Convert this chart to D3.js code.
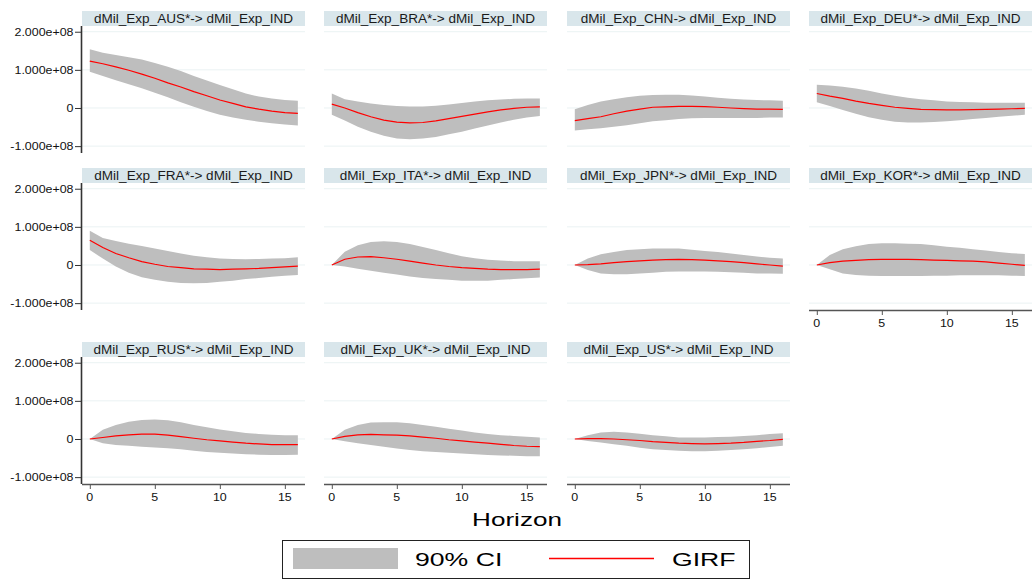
<!DOCTYPE html>
<html>
<head>
<meta charset="utf-8">
<script src="https://cdn.jsdelivr.net/npm/d3@7"></script>
<style>
  body { margin: 0; background: #fff; }
  text { font-family: "Liberation Sans", Arial, sans-serif; fill: #000; }
</style>
</head>
<body>
<div id="container"></div>
<script>
/* CONSTANTS AND GLOBALS */
const width = 1033,
  height = 584,
  colX = [82, 324, 567, 809],
  rowTop = [26, 183, 357],
  panelW = 223,
  panelH = 127,
  barH = 15,
  UNIT = 1e8;

/* DATA (values in units of 1e8, horizon 0..16) */
const horizons = d3.range(0, 17);
const yTicks = [-1e8, 0, 1e8, 2e8];
const yTickLabels = ["-1.000e+08", "0", "1.000e+08", "2.000e+08"];
const xTicks = [0, 5, 10, 15];

const panelNames = ["AUS", "BRA", "CHN", "DEU", "FRA", "ITA", "JPN", "KOR", "RUS", "UK", "US"];
const panelTitles = [
  "dMil_Exp_AUS*-> dMil_Exp_IND", "dMil_Exp_BRA*-> dMil_Exp_IND", "dMil_Exp_CHN-> dMil_Exp_IND",
  "dMil_Exp_DEU*-> dMil_Exp_IND", "dMil_Exp_FRA*-> dMil_Exp_IND", "dMil_Exp_ITA*-> dMil_Exp_IND",
  "dMil_Exp_JPN*-> dMil_Exp_IND", "dMil_Exp_KOR*-> dMil_Exp_IND", "dMil_Exp_RUS*-> dMil_Exp_IND",
  "dMil_Exp_UK*-> dMil_Exp_IND", "dMil_Exp_US*-> dMil_Exp_IND"
];

const girf = {
  AUS: [1.23,1.16,1.08,0.99,0.89,0.78,0.66,0.55,0.43,0.32,0.21,0.12,0.03,-0.03,-0.08,-0.12,-0.14],
  BRA: [0.10,0.00,-0.12,-0.23,-0.32,-0.37,-0.39,-0.38,-0.34,-0.28,-0.22,-0.16,-0.10,-0.05,-0.01,0.02,0.03],
  CHN: [-0.33,-0.28,-0.23,-0.15,-0.08,-0.03,0.02,0.03,0.04,0.04,0.035,0.02,0.00,-0.015,-0.03,-0.03,-0.035],
  DEU: [0.38,0.31,0.25,0.18,0.12,0.07,0.02,-0.01,-0.035,-0.045,-0.05,-0.05,-0.045,-0.035,-0.03,-0.02,-0.01],
  FRA: [0.65,0.46,0.30,0.19,0.09,0.02,-0.04,-0.07,-0.10,-0.11,-0.12,-0.11,-0.10,-0.09,-0.07,-0.05,-0.03],
  ITA: [0,0.15,0.21,0.22,0.19,0.15,0.10,0.05,0.00,-0.04,-0.07,-0.09,-0.11,-0.12,-0.12,-0.12,-0.11],
  JPN: [0,0.01,0.03,0.06,0.09,0.11,0.13,0.14,0.15,0.14,0.13,0.11,0.09,0.06,0.03,0.00,-0.03],
  KOR: [0,0.06,0.10,0.12,0.14,0.15,0.15,0.15,0.14,0.13,0.12,0.11,0.10,0.08,0.05,0.02,-0.01],
  RUS: [0,0.04,0.08,0.11,0.13,0.13,0.10,0.06,0.02,-0.02,-0.05,-0.08,-0.11,-0.13,-0.15,-0.15,-0.15],
  UK:  [0,0.07,0.11,0.12,0.11,0.10,0.08,0.05,0.02,-0.02,-0.05,-0.08,-0.11,-0.14,-0.17,-0.19,-0.20],
  US:  [0,0.01,0.01,0.00,-0.02,-0.04,-0.07,-0.09,-0.11,-0.12,-0.13,-0.12,-0.11,-0.09,-0.06,-0.04,-0.01]
};

const ciUpper = {
  AUS: [1.54,1.45,1.39,1.33,1.27,1.18,1.08,0.97,0.84,0.72,0.60,0.49,0.38,0.30,0.25,0.21,0.19],
  BRA: [0.38,0.23,0.17,0.12,0.08,0.05,0.04,0.04,0.06,0.09,0.13,0.17,0.20,0.22,0.24,0.25,0.25],
  CHN: [-0.03,0.08,0.17,0.23,0.28,0.32,0.34,0.35,0.35,0.33,0.30,0.27,0.24,0.22,0.21,0.20,0.19],
  DEU: [0.61,0.59,0.56,0.51,0.45,0.38,0.32,0.27,0.23,0.20,0.17,0.16,0.15,0.14,0.14,0.14,0.14],
  FRA: [0.90,0.71,0.63,0.56,0.50,0.43,0.37,0.30,0.24,0.20,0.17,0.16,0.15,0.16,0.17,0.18,0.20],
  ITA: [0,0.35,0.52,0.60,0.62,0.60,0.55,0.47,0.39,0.31,0.23,0.18,0.14,0.12,0.10,0.10,0.10],
  JPN: [0,0.17,0.28,0.34,0.39,0.41,0.43,0.43,0.43,0.40,0.37,0.34,0.30,0.26,0.22,0.19,0.17],
  KOR: [0,0.26,0.41,0.49,0.55,0.57,0.57,0.56,0.55,0.52,0.48,0.45,0.41,0.38,0.34,0.31,0.29],
  RUS: [0,0.24,0.37,0.45,0.50,0.51,0.49,0.44,0.37,0.31,0.25,0.20,0.16,0.13,0.11,0.10,0.10],
  UK:  [0,0.24,0.37,0.43,0.44,0.44,0.41,0.37,0.32,0.27,0.22,0.17,0.13,0.10,0.08,0.06,0.04],
  US:  [0,0.10,0.17,0.19,0.17,0.14,0.10,0.07,0.04,0.04,0.04,0.05,0.06,0.08,0.10,0.13,0.15]
};

const ciLower = {
  AUS: [0.95,0.84,0.73,0.62,0.52,0.40,0.28,0.15,0.03,-0.08,-0.18,-0.25,-0.31,-0.36,-0.40,-0.43,-0.46],
  BRA: [-0.18,-0.33,-0.49,-0.62,-0.73,-0.80,-0.82,-0.80,-0.76,-0.69,-0.62,-0.54,-0.46,-0.38,-0.31,-0.25,-0.21],
  CHN: [-0.59,-0.56,-0.53,-0.49,-0.45,-0.40,-0.35,-0.32,-0.29,-0.27,-0.26,-0.26,-0.26,-0.26,-0.26,-0.25,-0.25],
  DEU: [0.15,0.05,-0.05,-0.15,-0.24,-0.31,-0.36,-0.38,-0.38,-0.37,-0.35,-0.32,-0.29,-0.26,-0.23,-0.20,-0.18],
  FRA: [0.39,0.17,-0.04,-0.20,-0.32,-0.39,-0.44,-0.47,-0.48,-0.47,-0.44,-0.41,-0.37,-0.34,-0.31,-0.28,-0.26],
  ITA: [0,-0.04,-0.10,-0.15,-0.20,-0.25,-0.30,-0.34,-0.37,-0.39,-0.41,-0.41,-0.41,-0.39,-0.37,-0.35,-0.33],
  JPN: [0,-0.13,-0.22,-0.24,-0.24,-0.22,-0.20,-0.18,-0.17,-0.17,-0.17,-0.18,-0.19,-0.20,-0.22,-0.22,-0.23],
  KOR: [0,-0.11,-0.22,-0.26,-0.28,-0.29,-0.29,-0.29,-0.29,-0.28,-0.28,-0.27,-0.27,-0.27,-0.27,-0.28,-0.29],
  RUS: [0,-0.11,-0.16,-0.18,-0.20,-0.22,-0.24,-0.27,-0.31,-0.34,-0.36,-0.38,-0.40,-0.41,-0.42,-0.42,-0.41],
  UK:  [0,-0.06,-0.11,-0.16,-0.20,-0.25,-0.29,-0.32,-0.34,-0.36,-0.38,-0.40,-0.42,-0.43,-0.44,-0.45,-0.45],
  US:  [0,-0.05,-0.09,-0.14,-0.18,-0.23,-0.27,-0.29,-0.31,-0.32,-0.32,-0.31,-0.29,-0.27,-0.24,-0.21,-0.18]
};

// which panels carry an x axis (nothing below them)
const withXAxis = ["KOR", "RUS", "UK", "US"];

/* SCALES */
const xScale = d3.scaleLinear().domain([-0.6, 16.55]).range([0, panelW]);
const yScale = d3.scaleLinear().domain([-1.18e8, 2.15e8]).range([panelH, 0]);

const svg = d3.select("#container")
  .append("svg")
  .attr("width", width)
  .attr("height", height);

const area = d3.area()
  .x(d => xScale(d.h))
  .y0(d => yScale(d.lo))
  .y1(d => yScale(d.hi));

const line = d3.line()
  .x(d => xScale(d.h))
  .y(d => yScale(d.v));

/* PANELS */
panelNames.forEach((name, i) => {
  const row = Math.floor(i / 4), col = i % 4;
  const g = svg.append("g")
    .attr("transform", `translate(${colX[col]}, ${rowTop[row]})`);

  const rows = horizons.map((h, k) => ({
    h: h,
    v: girf[name][k] * UNIT,
    lo: ciLower[name][k] * UNIT,
    hi: ciUpper[name][k] * UNIT
  }));

  // title strip
  g.append("rect")
    .attr("x", 0).attr("y", -barH)
    .attr("width", panelW).attr("height", barH)
    .attr("fill", "#d9e6eb");
  g.append("text")
    .attr("transform", `translate(${panelW / 2}, -3.5) scale(1.13, 1)`)
    .attr("text-anchor", "middle")
    .attr("font-size", 12)
    .style("fill", "#1a1a1a")
    .text(panelTitles[i]);

  // gridlines
  g.selectAll(".grid")
    .data(yTicks)
    .join("line")
    .attr("class", "grid")
    .attr("x1", 0).attr("x2", panelW)
    .attr("y1", d => yScale(d)).attr("y2", d => yScale(d))
    .attr("stroke", "#eaf2f3")
    .attr("stroke-width", 1);

  g.append("path")
    .datum(rows)
    .attr("d", area)
    .attr("fill", "#bebebe");

  g.append("path")
    .datum(rows)
    .attr("d", line)
    .attr("fill", "none")
    .attr("stroke", "#ff0000")
    .attr("stroke-width", 1.2);

  if (col === 0) {
    const yAxis = d3.axisLeft(yScale)
      .tickValues(yTicks)
      .tickSize(7)
      .tickFormat("");
    const ya = g.append("g").call(yAxis);
    ya.select(".domain").attr("stroke", "#333").attr("stroke-width", 1.6)
      .attr("d", `M-0.5,0V${panelH}`);
    ya.selectAll(".tick line").attr("stroke", "#333");
    ya.selectAll(".lbl")
      .data(yTicks)
      .join("text")
      .attr("class", "lbl")
      .attr("transform", d => `translate(-8.5, ${yScale(d) + 4}) scale(1.13, 1)`)
      .attr("text-anchor", "end")
      .attr("font-size", 11)
      .style("fill", "#111")
      .text((d, k) => yTickLabels[k]);
  }

  if (withXAxis.includes(name)) {
    const xAxis = d3.axisBottom(xScale)
      .tickValues(xTicks)
      .tickSize(5)
      .tickFormat("");
    const xa = g.append("g")
      .attr("transform", `translate(0, ${panelH})`)
      .call(xAxis);
    xa.select(".domain").attr("stroke", "#555").attr("stroke-width", 1.6)
      .attr("d", `M0,0.5H${panelW}`);
    xa.selectAll(".tick line").attr("stroke", "#555");
    xa.selectAll(".lbl")
      .data(xTicks)
      .join("text")
      .attr("class", "lbl")
      .attr("transform", d => `translate(${xScale(d)}, 17) scale(1.13, 1)`)
      .attr("text-anchor", "middle")
      .attr("font-size", 11)
      .style("fill", "#111")
      .text(d => d);
  }
});

/* AXIS TITLE */
svg.append("text")
  .attr("transform", "translate(517, 526) scale(1.45, 1)")
  .attr("text-anchor", "middle")
  .attr("font-size", 18)
  .text("Horizon");

/* LEGEND */
const legend = svg.append("g").attr("transform", "translate(282, 540)");
legend.append("rect")
  .attr("x", 0.5).attr("y", 0.5)
  .attr("width", 467).attr("height", 38)
  .attr("fill", "#fff")
  .attr("stroke", "#222")
  .attr("stroke-width", 1);
legend.append("rect")
  .attr("x", 11).attr("y", 8)
  .attr("width", 105).attr("height", 21)
  .attr("fill", "#bebebe");
legend.append("text")
  .attr("transform", "translate(133, 26) scale(1.44, 1)")
  .attr("font-size", 18.5)
  .text("90% CI");
legend.append("line")
  .attr("x1", 267).attr("x2", 372)
  .attr("y1", 18.5).attr("y2", 18.5)
  .attr("stroke", "#ff0000")
  .attr("stroke-width", 1.3);
legend.append("text")
  .attr("transform", "translate(390, 26) scale(1.44, 1)")
  .attr("font-size", 18.5)
  .text("GIRF");
</script>
</body>
</html>
